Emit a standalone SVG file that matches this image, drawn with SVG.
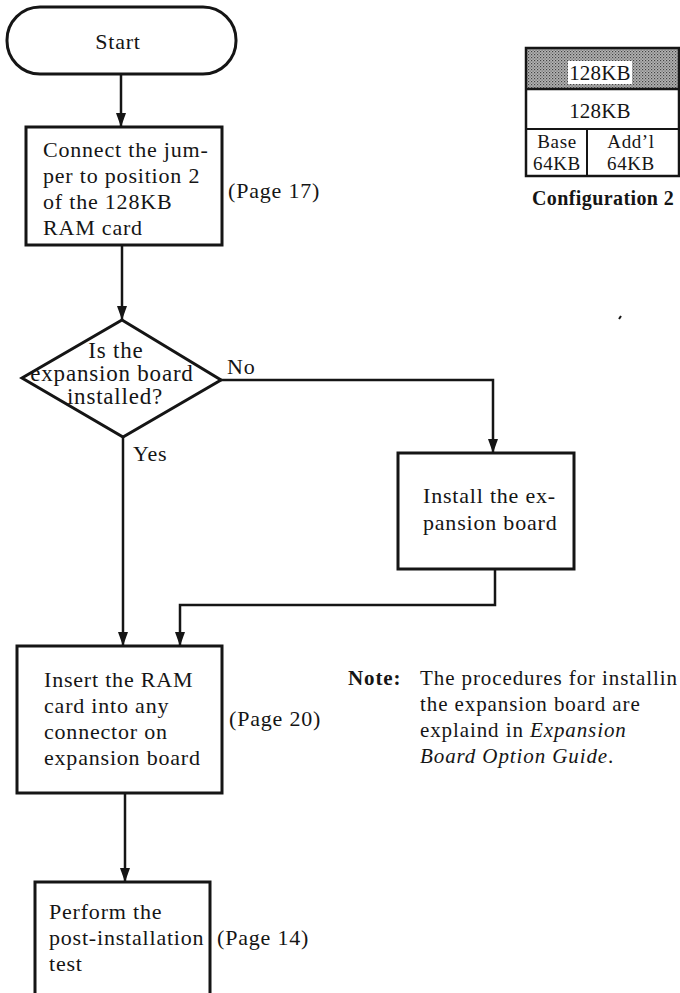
<svg xmlns="http://www.w3.org/2000/svg" width="680" height="993" viewBox="0 0 680 993">
<defs>
<style>
text{font-family:"Liberation Serif","Times New Roman",serif;fill:#151515;font-size:22px;letter-spacing:0.8px}
.box{fill:#fff;stroke:#151515;stroke-width:3}
.conn{fill:none;stroke:#151515;stroke-width:2.5}
.dia{font-size:23px;letter-spacing:0.8px}
.tbl{font-size:21px;letter-spacing:0.2px}
.tbl3{font-size:19px;letter-spacing:0.6px}
.note{font-size:21px;letter-spacing:0.9px}
.bold{font-weight:bold}
.it{font-style:italic}
.mid{text-anchor:middle}
</style>
<marker id="arr" viewBox="0 0 14 10" refX="14" refY="5" markerWidth="14" markerHeight="10" markerUnits="userSpaceOnUse" orient="auto">
<path d="M0,0 L14,5 L0,10 z" fill="#151515"/>
</marker>
<pattern id="dots" width="3" height="3" patternUnits="userSpaceOnUse">
<rect width="3" height="3" fill="#b4b4b4"/>
<rect width="1.2" height="1.2" fill="#444"/>
<rect x="1.5" y="1.5" width="1.2" height="1.2" fill="#666"/>
</pattern>
</defs>
<rect width="680" height="993" fill="#fff"/>

<g id="connectors">
<path class="conn" d="M121,74 V127" marker-end="url(#arr)"/>
<path class="conn" d="M122,245 V320" marker-end="url(#arr)"/>
<path class="conn" d="M221,380 H493 V453" marker-end="url(#arr)"/>
<path class="conn" d="M123,437 V646" marker-end="url(#arr)"/>
<path class="conn" d="M495,569 V605 H180 V646" marker-end="url(#arr)"/>
<path class="conn" d="M125,793 V882" marker-end="url(#arr)"/>
</g>

<g id="start">
<rect class="box" x="7" y="7" width="229" height="67" rx="33" ry="33" stroke-width="2"/>
<text class="mid" x="118" y="49">Start</text>
</g>

<g id="connect-jumper">
<rect class="box" x="26" y="127" width="196" height="118"/>
<text x="43" y="157">Connect the jum-</text>
<text x="43" y="183">per to position 2</text>
<text x="43" y="209">of the 128KB</text>
<text x="43" y="235">RAM card</text>
<text x="228" y="198">(Page 17)</text>
</g>

<g id="decision">
<polygon class="box" points="122,320 221,380 123,437 22,378" stroke-width="2.5"/>
<text class="dia mid" x="116" y="358">Is the</text>
<text class="dia mid" x="112" y="381">expansion board</text>
<text class="dia mid" x="115" y="404">installed?</text>
<text x="227" y="374">No</text>
<text x="133" y="461">Yes</text>
</g>

<g id="install-board">
<rect class="box" x="398" y="453" width="176" height="116"/>
<text x="423" y="503">Install the ex-</text>
<text x="423" y="530">pansion board</text>
</g>

<g id="insert-card">
<rect class="box" x="17" y="646" width="205" height="147"/>
<text x="44" y="687">Insert the RAM</text>
<text x="44" y="713">card into any</text>
<text x="44" y="739">connector on</text>
<text x="44" y="765">expansion board</text>
<text x="229" y="726">(Page 20)</text>
</g>

<g id="perform-test">
<rect class="box" x="35" y="882" width="175" height="130"/>
<text x="49" y="919">Perform the</text>
<text x="49" y="945">post-installation</text>
<text x="49" y="971">test</text>
<text x="217" y="945">(Page 14)</text>
</g>

<g id="configuration">
<rect x="526" y="48" width="154" height="41" fill="url(#dots)"/>
<rect x="568" y="61" width="64" height="23" fill="#fff"/>
<rect x="526" y="48" width="153" height="128" fill="none" stroke="#151515" stroke-width="2.5"/>
<line x1="526" y1="89" x2="679" y2="89" stroke="#151515" stroke-width="2.5"/>
<line x1="526" y1="129" x2="679" y2="129" stroke="#151515" stroke-width="2"/>
<line x1="587" y1="129" x2="587" y2="176" stroke="#151515" stroke-width="2"/>
<text class="tbl mid" x="600" y="80">128KB</text>
<text class="tbl mid" x="600" y="118">128KB</text>
<text class="tbl3 mid" x="557" y="148">Base</text>
<text class="tbl3 mid" x="557" y="170">64KB</text>
<text class="tbl3 mid" x="631" y="148">Add’l</text>
<text class="tbl3 mid" x="631" y="170">64KB</text>
<text class="bold" x="532" y="205" style="font-size:20px;letter-spacing:0.4px">Configuration 2</text>
</g>

<g id="note">
<text class="note bold" x="348" y="685">Note:</text>
<text class="note" x="420" y="685">The procedures for installin</text>
<text class="note" x="420" y="711">the expansion board are</text>
<text class="note" x="420" y="737">explaind in <tspan class="it">Expansion</tspan></text>
<text class="note" x="420" y="763"><tspan class="it">Board Option Guide</tspan>.</text>
</g>

<path d="M619,319 L621,316" stroke="#151515" stroke-width="2"/>
</svg>
